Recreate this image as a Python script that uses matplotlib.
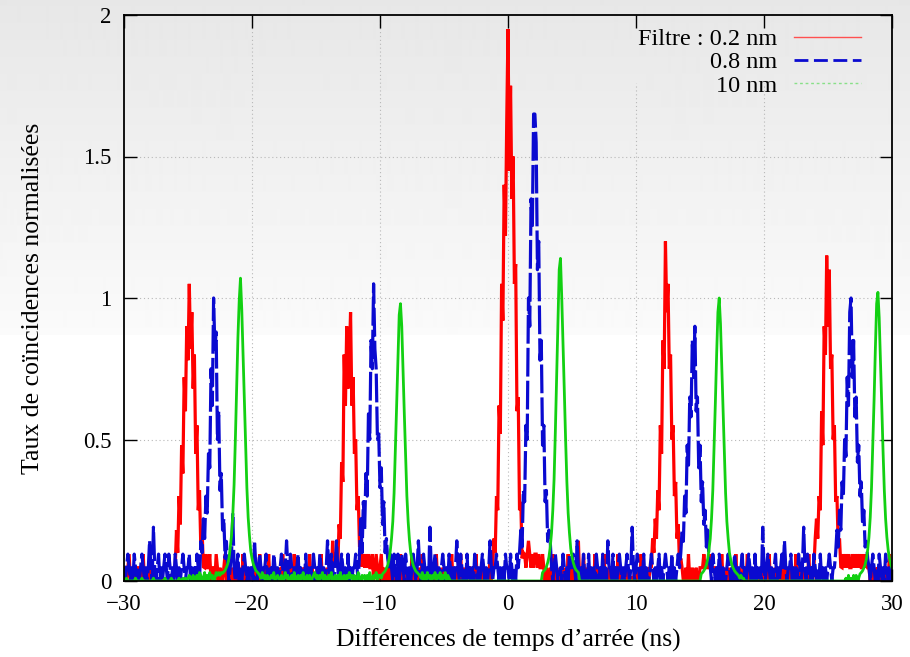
import numpy as np
import matplotlib.pyplot as plt
from matplotlib.lines import Line2D

plt.rcParams['font.family'] = ['Liberation Serif', 'DejaVu Serif']

# time axis: bins of 0.1 ns from -30 to 30 ns
T0, DT, NBIN = -30.0, 0.1, 601

# baseline (between peaks), one character per bin, index into the level tables
BLUE_LEVELS = [0.0, 0.047, 0.095, 0.142, 0.19, 0.24]
RED_LEVELS = [-0.02, 0.0, 0.012, 0.047, 0.095, 0.142]
GREEN_LEVELS = [-0.03, -0.015, 0.0, 0.01, 0.02, 0.03, 0.04]

blue_base = ("1012101021" "0101210101" "3104101201" "0121021010" "2101012101"
             "1201010210" "1111111111" "1111111111" "1101251012" "0101210101"
             "1031012101" "1201010210" "1012101310" "2101012010" "1020101021"
             "0102101013" "1021013101" "2101020101" "1210111111" "1111111111"
             "1111111121" "0210201210" "2101012101" "3101210104" "1012101012"
             "1010210101" "3102101020" "1010210101" "2101013101" "1210101021"
             "1021010211" "1111111111" "1111111111" "1111101210" "0102101021"
             "1210310102" "0102010102" "1010201031" "1020101210" "1012101410"
             "1210102010" "0121010120" "1012101020" "1012111111" "1111111111"
             "1111111110" "2101021010" "0121010210" "1012010121" "0102010104"
             "1012101012" "0101213101" "1201010210" "1410210102" "1010201010"
             "1210111111" "1111111111" "1111111111" "1110121010" "2101021010"
             "1")
red_base = ("3113413113" "1331141311" "3113121021" "0212012102" "1111111111"
            "1111111111" "1113433413" "3143131134" "1311311311" "3114131131"
            "1311314131" "1314113131" "1131413113" "1314113113" "1311141311"
            "1311413113" "1315341111" "1111111111" "1111111434" "3433413431"
            "3413113141" "1311314113" "1131141311" "3114113131" "1311413113"
            "1311314113" "1314113113" "3113141311" "3113114111" "1111111111"
            "1111111111" "1114345434" "3443433431" "3113141131" "1311311413"
            "1311351314" "1131131141" "3113141131" "1311314113" "1311322213"
            "1311413113" "1311111111" "1111111111" "1111113113" "1411311311"
            "3334333433" "3331311413" "1131131141" "1311311413" "1131131131"
            "1311413113" "1311314113" "1131141311" "3113141311" "1111111111"
            "1111111111" "1343434334" "3434343343" "4331311313" "1131131141"
            "1")
green_base = ("2232222223" "2222322222" "2223222222" "2232222322" "2223223232"
              "3431403425" "4135142534" "1354545222" "2222222222" "2222222222"
              "2222224353" "4140343523" "4314035341" "3425314043" "5134240345"
              "3414352430" "4351341425" "3140435342" "4135304341" "4253143524"
              "4322222222" "2222222222" "2222222222" "2435142534" "1435243514"
              "3524322222" "2222222222" "2222222222" "2222222222" "2222222222"
              "2222222222" "2222222222" "2222222222" "2222222222" "2222222222"
              "2222222222" "2222222222" "2222222222" "2222222222" "2222222222"
              "2222222222" "2222222222" "2222222222" "2222222222" "2222222222"
              "2222222222" "2222222222" "2222222222" "4343322222" "2222222222"
              "2222222222" "2222222222" "2222222222" "2222222222" "2222222222"
              "2222222222" "2222304130" "4140322222" "2222222222" "2222222222"
              "2")

# coincidence peaks: first bin (ns) and values, bin by bin
red_peak_t = [-26.0, -13.4, -1.2, 11.2, 23.9]
red_peak_y = [
    [0.05, 0.18, 0.10, 0.30, 0.20, 0.48, 0.38, 0.72, 0.60, 0.90, 0.78, 1.05,
     0.82, 0.95, 0.68, 0.80, 0.45, 0.55, 0.25, 0.32, 0.12, 0.18, 0.05],
    [0.10, 0.05, 0.20, 0.15, 0.42, 0.35, 0.80, 0.62, 0.90, 0.68, 0.78, 0.95,
     0.62, 0.72, 0.45, 0.50, 0.25, 0.30, 0.12, 0.15, 0.05],
    [0.05, 0.15, 0.10, 0.30, 0.25, 0.62, 0.52, 1.05, 0.92, 1.40, 1.22, 1.62,
     1.95, 1.45, 1.75, 1.35, 1.50, 1.05, 1.12, 0.60, 0.65, 0.25, 0.28, 0.08, 0.10],
    [0.05, 0.15, 0.10, 0.22, 0.15, 0.32, 0.25, 0.55, 0.45, 0.85, 0.75, 1.20,
     0.95, 1.05, 0.75, 0.80, 0.50, 0.55, 0.30, 0.35, 0.15, 0.20, 0.06, 0.08],
    [0.05, 0.15, 0.22, 0.15, 0.30, 0.25, 0.60, 0.48, 0.90, 0.80, 1.15, 0.90,
     1.10, 0.75, 0.80, 0.50, 0.55, 0.28, 0.30, 0.12, 0.15, 0.05],
]
blue_peak_t = [-24.0, -11.6, 0.9, 13.5, 25.6]
blue_peak_y = [
    [0.14, 0.10, 0.22, 0.15, 0.30, 0.24, 0.45, 0.40, 0.75, 0.62, 1.00, 0.82,
     0.88, 0.50, 0.60, 0.32, 0.38, 0.18, 0.22, 0.08, 0.14, 0.05],
    [0.10, 0.22, 0.10, 0.28, 0.18, 0.38, 0.30, 0.60, 0.50, 0.85, 0.75, 1.05,
     0.82, 0.75, 0.50, 0.52, 0.33, 0.40, 0.20, 0.28, 0.10, 0.15, 0.08, 0.05],
    [0.10, 0.18, 0.12, 0.32, 0.28, 0.55, 0.50, 1.00, 0.90, 1.35, 1.25, 1.65,
     1.65, 1.55, 1.10, 1.20, 0.78, 0.85, 0.48, 0.55, 0.28, 0.32, 0.14, 0.18, 0.14, 0.05],
    [0.10, 0.18, 0.14, 0.30, 0.24, 0.48, 0.40, 0.65, 0.58, 0.85, 0.72, 0.90,
     0.60, 0.65, 0.40, 0.48, 0.28, 0.35, 0.20, 0.25, 0.12, 0.18, 0.08, 0.05],
    [0.10, 0.18, 0.12, 0.25, 0.18, 0.35, 0.30, 0.50, 0.44, 0.72, 0.62, 0.95,
     1.00, 0.72, 0.85, 0.58, 0.65, 0.42, 0.48, 0.30, 0.35, 0.20, 0.25, 0.12, 0.14, 0.08, 0.05],
]
green_peak_t = [-22.3, -9.8, 2.7, 15.1, 27.5]
green_peak_y = [
    [0.027, 0.032, 0.038, 0.048, 0.06, 0.08, 0.118, 0.16, 0.235, 0.34, 0.50, 0.68,
     0.86, 0.99, 1.07, 0.96, 0.80, 0.64, 0.48, 0.33, 0.225, 0.16, 0.107, 0.08,
     0.06, 0.048, 0.037, 0.032, 0.027],
    [0.025, 0.03, 0.035, 0.045, 0.055, 0.075, 0.105, 0.15, 0.21, 0.31, 0.46, 0.62,
     0.78, 0.94, 0.98, 0.90, 0.74, 0.59, 0.44, 0.30, 0.21, 0.145, 0.10, 0.073,
     0.055, 0.044, 0.035, 0.03, 0.025],
    [0.03, 0.035, 0.04, 0.05, 0.065, 0.085, 0.12, 0.17, 0.25, 0.36, 0.53, 0.72,
     0.90, 1.10, 1.14, 1.00, 0.84, 0.67, 0.50, 0.35, 0.24, 0.17, 0.115, 0.085,
     0.065, 0.05, 0.04, 0.035, 0.03],
    [0.025, 0.03, 0.036, 0.045, 0.057, 0.077, 0.11, 0.15, 0.22, 0.32, 0.47, 0.63,
     0.80, 0.95, 1.00, 0.91, 0.76, 0.60, 0.45, 0.31, 0.21, 0.15, 0.10, 0.075,
     0.056, 0.045, 0.036, 0.03, 0.025],
    [0.025, 0.03, 0.036, 0.046, 0.058, 0.078, 0.11, 0.155, 0.225, 0.33, 0.48, 0.64,
     0.82, 0.98, 1.02, 0.93, 0.78, 0.62, 0.46, 0.32, 0.22, 0.155, 0.11, 0.08,
     0.06, 0.046],
]

LABELS = ["Filtre : 0.2 nm", "0.8 nm", "10 nm"]
RED, BLUE, GREEN = "#ff0000", "#0a0ad0", "#12d012"


def build(base, levels, starts, peaks):
    y = np.array([levels[int(c)] for c in base[:NBIN]], dtype=float)
    if len(y) < NBIN:
        y = np.concatenate([y, np.zeros(NBIN - len(y))])
    for t0, vals in zip(starts, peaks):
        i0 = int(round((t0 - T0) / DT))
        n = min(len(vals), NBIN - i0)
        y[i0:i0 + n] = vals[:n]
    return y


def main():
    t = T0 + DT * np.arange(NBIN)
    red = build(red_base, RED_LEVELS, red_peak_t, red_peak_y)
    blue = build(blue_base, BLUE_LEVELS, blue_peak_t, blue_peak_y)
    green = build(green_base, GREEN_LEVELS, green_peak_t, green_peak_y)

    fig = plt.figure(figsize=(9.1, 6.57), dpi=100)
    # grey-to-white backdrop
    bg = fig.add_axes([0, 0, 1, 1], zorder=-10)
    rows = np.ones(657)
    rows[:335] = np.linspace(0.905, 0.982, 335)
    bg.imshow(rows[:, None], cmap="gray", vmin=0, vmax=1, aspect="auto",
              extent=(0, 1, 0, 1), interpolation="bilinear")
    bg.set_axis_off()

    ax = fig.add_axes([124 / 910, 1 - 581 / 657, 768 / 910, 566 / 657])
    ax.set_facecolor("none")

    # dotted grid, cut under the key (top right)
    gkw = dict(color="#b8b8b8", lw=0.8, ls=(0, (1, 2.5)), zorder=1)
    for gx in (-20, -10, 0):
        ax.axvline(gx, **gkw)
    for gx in (10, 20):
        ax.plot([gx, gx], [0, 1.76], **gkw)
    for gy in (0.5, 1.0, 1.5):
        ax.axhline(gy, **gkw)

    ax.plot(t, red, color=RED, lw=2.3, zorder=2, solid_joinstyle="miter")
    ax.plot(t, blue, color=BLUE, lw=2.3, dashes=(9, 1.3), zorder=3)
    ax.plot(t, green, color=GREEN, lw=2.0, zorder=4)

    ax.set_xlim(-30, 30)
    ax.set_ylim(0, 2)
    ax.set_xticks(np.arange(-30, 31, 10))
    ax.set_yticks([0, 0.5, 1, 1.5, 2])
    ax.set_yticklabels(["0", "0.5", "1", "1.5", "2"])
    ax.tick_params(direction="in", length=9, width=1, top=True, right=True,
                   labelsize=16.5, pad=9, colors="black")
    for sp in ax.spines.values():
        sp.set_linewidth(1.3)
        sp.set_zorder(5)

    ax.set_xlabel("Différences de temps d’arrée (ns)", fontsize=18.5, labelpad=10)
    ax.set_ylabel("Taux de coïncidences normalisées", fontsize=18.5, labelpad=28)

    handles = [Line2D([], [], color="#ff5050", lw=1.0),
               Line2D([], [], color=BLUE, lw=2.0, dashes=(5, 2)),
               Line2D([], [], color="#88e088", lw=1.0, ls=(0, (2, 2)))]
    leg = ax.legend(handles, LABELS, loc="upper right", bbox_to_anchor=(0.972, 0.994),
                    markerfirst=False, fontsize=17.5, handlelength=2.75,
                    handletextpad=0.7, labelspacing=0.05, borderaxespad=0,
                    frameon=False)
    leg.set_zorder(6)

    fig.savefig("out.png", dpi=100)
    plt.close(fig)


if __name__ == "__main__":
    main()
